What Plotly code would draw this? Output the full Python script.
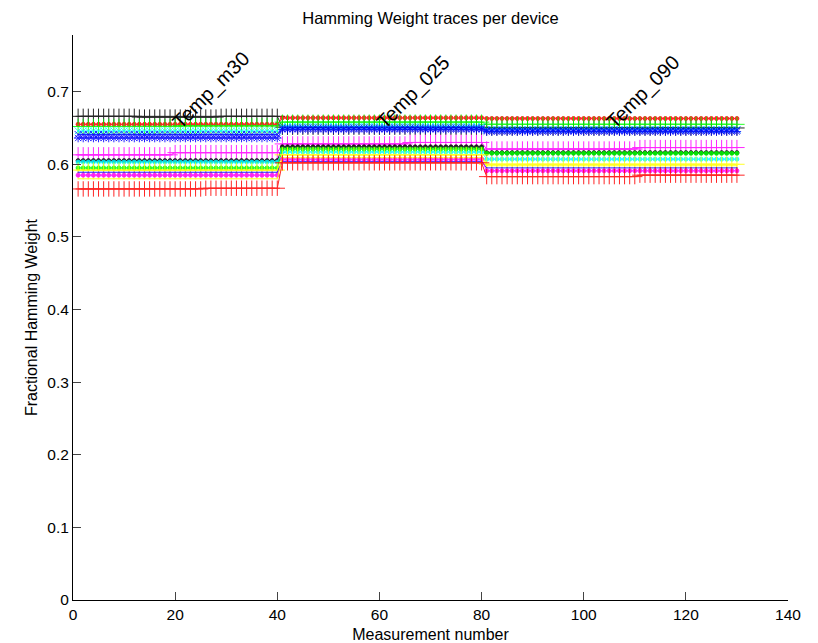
import plotly.graph_objects as go

# ---- data ----
seg_counts = [40, 40, 50]
x_vals = list(range(1, sum(seg_counts) + 1))

# each trace: runs of (value, count) across the three blocks, in drawing order
names = ["dev01", "dev02", "dev03", "dev04", "dev05", "dev06", "dev07", "dev08",
         "dev09", "dev10", "dev11", "dev12", "dev13", "dev14", "dev15"]
colors = ["#000000", "#ff0000", "#00ff00", "#00ffff", "#0000ff", "#0000ff", "#ff00ff", "#000000",
          "#00ffff", "#00ff00", "#ffff00", "#0000ff", "#ff00ff", "#ffff00", "#ff0000"]
markers = ["cross-thin", "circle", "cross-thin", "x-thin", "x-thin", "asterisk", "cross-thin", "circle",
           "circle", "circle", "cross-thin", "line-ew", "circle", "line-ew", "cross-thin"]
runs = [
    [(0.666, 12), (0.665, 16), (0.666, 12), (0.651, 40), (0.650, 50)],
    [(0.655, 40), (0.664, 40), (0.663, 50)],
    [(0.652, 20), (0.653, 20), (0.658, 40), (0.655, 50)],
    [(0.646, 40), (0.652, 40), (0.648, 50)],
    [(0.641, 40), (0.650, 40), (0.647, 50)],
    [(0.636, 40), (0.648, 40), (0.645, 50)],
    [(0.613, 19), (0.616, 21), (0.628, 25), (0.630, 15), (0.621, 30), (0.623, 20)],
    [(0.605, 40), (0.624, 40), (0.616, 50)],
    [(0.603, 40), (0.617, 40), (0.607, 50)],
    [(0.595, 40), (0.621, 40), (0.615, 50)],
    [(0.592, 40), (0.613, 40), (0.600, 50)],
    [(0.589, 40), (0.604, 40), (0.595, 50)],
    [(0.585, 40), (0.607, 40), (0.591, 50)],
    [(0.580, 40), (0.609, 40), (0.598, 50)],
    [(0.566, 25), (0.567, 15), (0.602, 40), (0.583, 30), (0.585, 20)],
]

label_text = ["Temp_m30", "Temp_025", "Temp_090"]
label_x = [20, 60, 105]
label_y = [0.66, 0.66, 0.66]

x_ticks = [0, 20, 40, 60, 80, 100, 120, 140]
y_ticks = [0, 0.1, 0.2, 0.3, 0.4, 0.5, 0.6, 0.7]
y_tick_text = ["0", "0.1", "0.2", "0.3", "0.4", "0.5", "0.6", "0.7"]


def expand(r):
    out = []
    for v, n in r:
        out.extend([v] * n)
    return out


marker_size = {"cross-thin": 11, "circle": 4, "x-thin": 7, "asterisk": 7, "line-ew": 1}

fig = go.Figure()
for name, col, mk, r in zip(names, colors, markers, runs):
    y = expand(r)
    fig.add_trace(go.Scatter(
        x=x_vals, y=y, mode="lines+markers", name=name,
        line=dict(color=col, width=1),
        marker=dict(symbol=mk, size=marker_size[mk], color=col,
                    line=dict(color=col, width=1)),
        opacity=0.85,
        showlegend=False,
    ))

font = "Liberation Sans, Arial, sans-serif"
for t, lx, ly in zip(label_text, label_x, label_y):
    fig.add_annotation(x=lx, y=ly, text=t, showarrow=False, textangle=-45,
                       xanchor="left", yanchor="bottom", xshift=-10, yshift=-16,
                       font=dict(family=font, size=20, color="black"))

fig.update_layout(
    width=818, height=643,
    margin=dict(l=73, r=30, t=35, b=43),
    paper_bgcolor="white", plot_bgcolor="white",
    font=dict(family=font, size=15.5, color="black"),
    title=dict(text="Hamming Weight traces per device", x=0.5, xref="paper",
               y=1 - 18 / 643, yref="container", yanchor="middle",
               font=dict(family=font, size=16.5, color="black")),
    xaxis=dict(range=[0, 140], tickvals=x_ticks, ticks="inside", ticklen=8,
               showline=True, linecolor="black", linewidth=1, showgrid=False,
               zeroline=False, automargin=False,
               title=dict(text="Measurement number", standoff=8,
                          font=dict(size=16)),
               tickfont=dict(size=15.5)),
    yaxis=dict(range=[0, 0.778], tickvals=y_ticks, ticktext=y_tick_text,
               ticks="inside", ticklen=8, showline=True, linecolor="black",
               linewidth=1, showgrid=False, zeroline=False, automargin=False,
               title=dict(text="Fractional Hamming Weight", standoff=5,
                          font=dict(size=16)),
               tickfont=dict(size=15.5)),
)

fig.write_html("out.html")
